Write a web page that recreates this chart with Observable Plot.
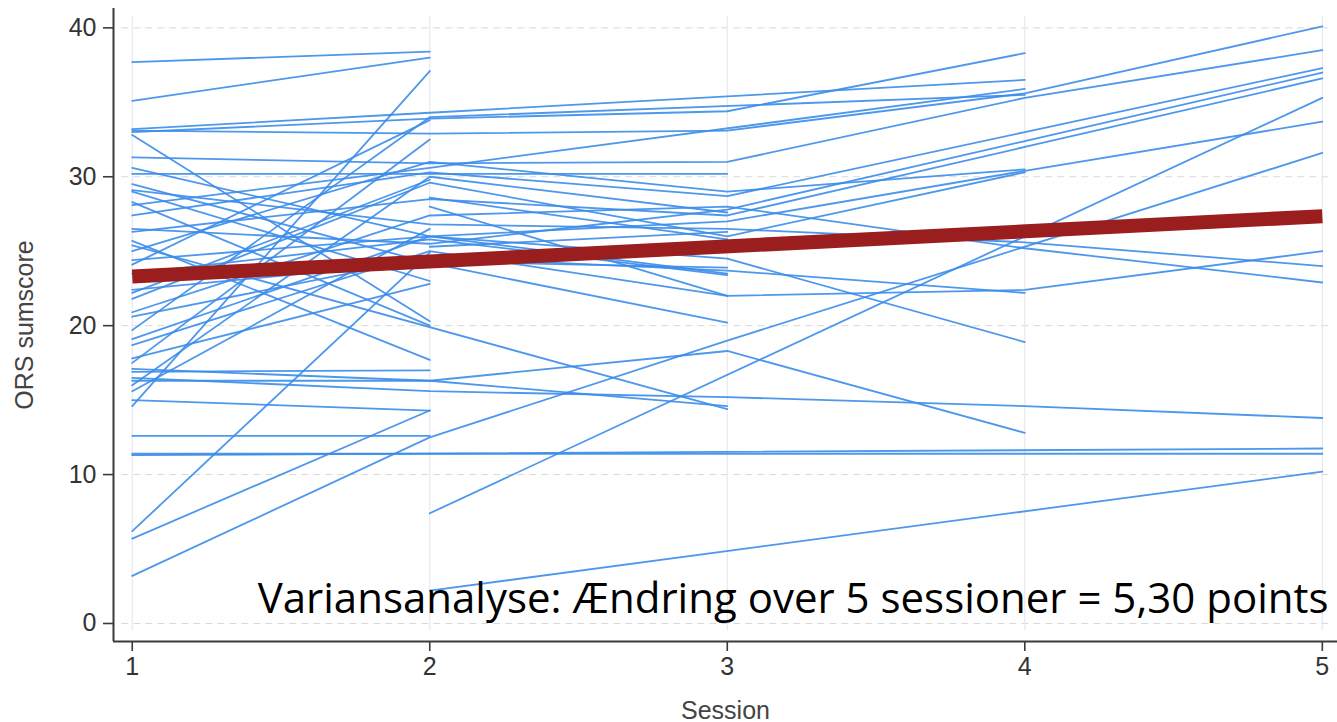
<!DOCTYPE html>
<html><head><meta charset="utf-8">
<script src="https://cdn.jsdelivr.net/npm/d3@7"></script>
<script src="https://cdn.jsdelivr.net/npm/@observablehq/plot@0.6"></script>
<style>
body{margin:0;background:#fff;}
#chart svg{display:block;}
</style>
</head><body><div id="chart"></div>
<script>
// ---- data ----
const sessions = [1, 2, 3, 4, 5];
// ORS sumscore per participant at sessions 1..5 (null = not measured)
const participantScores = [
  [37.7, 38.4, null, null, null],
  [35.1, 38.0, null, null, null],
  [14.6, 37.1, null, null, null],
  [33.2, 34.3, null, 36.5, null],
  [33.0, 33.9, 34.4, 38.3, null],
  [33.1, 32.9, 33.1, 35.6, 40.1],
  [32.8, 20.3, null, null, null],
  [31.3, 30.9, 31.0, 35.3, 38.5],
  [30.2, 30.2, 30.2, null, null],
  [29.5, 24.2, 20.2, null, null],
  [29.1, 26.8, 26.5, 25.6, 24.0],
  [29.0, 23.0, null, null, null],
  [28.1, 30.6, null, 35.9, null],
  [27.4, 30.3, 28.7, 33.0, 37.3],
  [26.5, 25.5, 27.8, 32.4, 37.0],
  [26.3, 28.5, 27.4, 32.0, 36.6],
  [25.7, 17.7, null, null, null],
  [25.0, 31.0, 29.0, 30.5, null],
  [24.4, 26.0, 27.0, 30.4, 33.7],
  [24.1, 33.8, null, null, null],
  [22.4, 24.3, 23.9, null, null],
  [21.8, 29.6, 26.0, 30.3, null],
  [20.9, 27.4, 28.0, 25.2, 22.9],
  [19.7, 34.0, null, 35.5, null],
  [18.7, 25.0, 22.0, 22.4, 25.0],
  [17.8, 22.8, null, null, null],
  [17.1, 16.3, 14.6, null, null],
  [25.4, null, 14.4, null, null],
  [16.9, 17.0, null, null, null],
  [16.5, 15.6, 15.2, 14.6, 13.8],
  [16.3, 16.3, 18.3, 12.8, null],
  [15.0, 14.3, null, null, null],
  [5.7, 14.3, null, null, null],
  [6.2, 24.9, null, null, null],
  [3.2, 12.5, 19.0, null, 31.6],
  [12.6, 12.6, null, null, null],
  [11.4, 11.4, 11.4, 11.4, 11.4],
  [11.3, null, null, null, 11.75],
  [null, 7.4, null, null, 35.3],
  [null, 2.2, null, null, 10.2],
  [null, 28.6, 25.8, null, null],
  [null, 28.0, 22.0, null, null],
  [null, 25.3, 26.3, null, null],
  [30.6, 26.0, 23.5, null, null],
  [28.3, 20.0, null, null, null],
  [22.2, 29.8, null, null, null],
  [23.5, 25.8, 23.4, null, null],
  [20.6, 24.6, 23.7, 22.2, null],
  [19.1, 26.0, 24.5, 18.9, null],
  [17.5, 32.5, null, null, null],
  [16.0, 30.0, 27.6, null, null],
  [15.6, 26.5, null, null, null]
];
// fitted mean trajectory (variance analysis)
const trendSessions = [1, 5];
const trendScores = [23.3, 27.35];
const xTicks = [1, 2, 3, 4, 5];
const yTicks = [0, 10, 20, 30, 40];
const xLabel = "Session";
const yLabel = "ORS sumscore";
const caption = "Variansanalyse: Ændring over 5 sessioner = 5,30 points";

// ---- build tidy rows ----
const rows = [];
participantScores.forEach((scores, id) => {
  scores.forEach((v, j) => { if (v != null) rows.push({id, session: sessions[j], score: v}); });
});
const trend = trendSessions.map((s, i) => ({session: s, score: trendScores[i]}));

const xDomain = [0.937, 5.051];
const yDomain = [-1.21, 41.3];
const axisFont = "'Liberation Sans', Arial, Helvetica, sans-serif";

const chart = Plot.plot({
  width: 1337,
  height: 722,
  marginLeft: 113,
  marginRight: 0,
  marginTop: 8,
  marginBottom: 81,
  style: {fontFamily: axisFont, background: "#fff", overflow: "visible"},
  x: {domain: xDomain},
  y: {domain: yDomain},
  marks: [
    Plot.ruleY(yTicks, {y: d => d, x1: 0.965, x2: 5.03, stroke: "#d9d9d9", strokeWidth: 1, strokeDasharray: "7,5"}),
    Plot.ruleX(xTicks, {x: d => d, y1: -0.5, y2: 40.8, stroke: "#e8e8ee", strokeWidth: 1.2}),
    Plot.line(rows, {x: "session", y: "score", z: "id", stroke: "#3a8cea", strokeWidth: 1.8, strokeOpacity: 0.9}),
    Plot.line(trend, {x: "session", y: "score", stroke: "#9a1e1e", strokeWidth: 14, strokeLinecap: "butt"}),
    Plot.ruleX([xDomain[0]], {stroke: "#3a3a3a", strokeWidth: 2}),
    Plot.ruleY([yDomain[0]], {stroke: "#3a3a3a", strokeWidth: 2}),
    Plot.axisY(yTicks, {tickSize: 10, tickPadding: 7, fontSize: 25, tickFormat: d3.format("d"), stroke: "#3a3a3a", strokeWidth: 1.6, color: "#333", label: null}),
    Plot.axisX(xTicks, {tickSize: 10, tickPadding: 6, fontSize: 25, tickFormat: d3.format("d"), stroke: "#3a3a3a", strokeWidth: 1.6, color: "#333", label: null}),
    Plot.text([yLabel], {frameAnchor: "left", dx: -89, rotate: -90, textAnchor: "middle", lineAnchor: "middle", fontSize: 25, fill: "#444", text: d => d}),
    Plot.text([xLabel], {frameAnchor: "bottom", dy: 69, lineAnchor: "middle", fontSize: 25, fill: "#444", text: d => d}),
    Plot.text([caption], {frameAnchor: "bottom-right", dx: -9, dy: -42, textAnchor: "end", lineAnchor: "middle", fontSize: 42, fill: "#000", fontFamily: "'Open Sans', Lato, sans-serif", text: d => d})
  ]
});
document.getElementById("chart").appendChild(chart);
</script>
</body></html>
